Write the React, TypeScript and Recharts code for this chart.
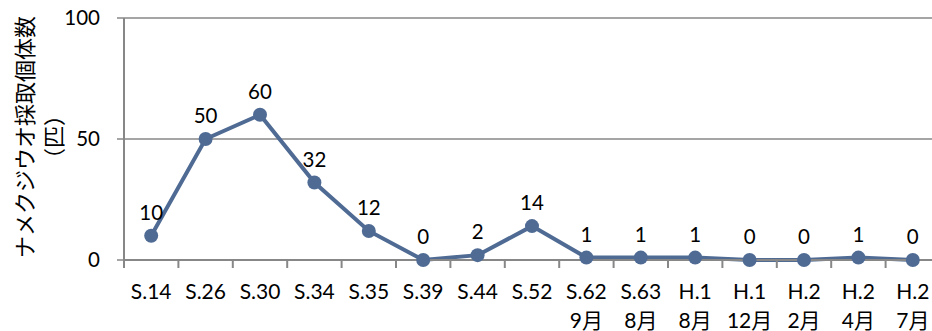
import { LineChart, Line, XAxis, YAxis, CartesianGrid, LabelList } from 'recharts';

// Survey periods (era year) and survey month, one entry per sampling
const periods = ['S.14', 'S.26', 'S.30', 'S.34', 'S.35', 'S.39', 'S.44', 'S.52', 'S.62', 'S.63', 'H.1', 'H.1', 'H.2', 'H.2', 'H.2'];
const months = ['', '', '', '', '', '', '', '', '9月', '8月', '8月', '12月', '2月', '4月', '7月'];
const counts = [10, 50, 60, 32, 12, 0, 2, 14, 1, 1, 1, 0, 0, 1, 0];
const yTicks = [0, 50, 100];

const data = periods.map((p, i) => ({ name: `${p}|${months[i]}`, count: counts[i] }));

const AXIS_GRAY = '#878787';
const LINE_BLUE = '#4F6B94';
const FONT = 'Lato, "Noto Sans CJK JP", sans-serif';

// Two-line category label plus a tick mark on the left band edge
function PeriodTick(props: any) {
  const { x, y, payload } = props;
  const [period, month] = String(payload.value).split('|');
  const half = payload.offset || 27.2;
  return (
    <g>
      <line x1={x - half} x2={x - half} y1={y - 8} y2={y} stroke={AXIS_GRAY} strokeWidth={2} />
      <text x={x} y={y + 31} textAnchor="middle" fontSize={21} fontFamily={FONT} fill="#000">
        {period}
      </text>
      {month && (
        <text x={x} y={y + 60} textAnchor="middle" fontSize={21} fontFamily={FONT} fill="#000">
          {month}
        </text>
      )}
    </g>
  );
}

// Vertical axis title, drawn as two rotated lines
function AxisTitle(props: any) {
  const vb = props.viewBox ?? { y: 18, height: 242 };
  const cy = vb.y + vb.height / 2 - 2;
  const jp = '"Noto Sans CJK JP", sans-serif';
  return (
    <g>
      <text
        x={23}
        y={cy}
        transform={`rotate(-90 23 ${cy})`}
        textAnchor="middle"
        dominantBaseline="central"
        fontSize={22}
        fontFamily={jp}
        fill="#000"
      >
        ナメクジウオ採取個体数
      </text>
      <text
        x={52}
        y={cy}
        transform={`rotate(-90 52 ${cy})`}
        textAnchor="middle"
        dominantBaseline="central"
        fontSize={22}
        fontFamily={jp}
        fill="#000"
      >
        （匹）
      </text>
    </g>
  );
}

export default function App() {
  return (
    <div style={{ position: 'fixed', left: 0, top: 0, width: 932, height: 331, overflow: 'hidden', background: '#fff' }}>
      <LineChart width={946} height={331} data={data} margin={{ top: 18, right: 6, bottom: 0, left: 0 }}>
        <CartesianGrid vertical={false} stroke={AXIS_GRAY} strokeWidth={1.5} />
        <XAxis
          dataKey="name"
          scale="band"
          height={71}
          interval={0}
          tickSize={8}
          tickMargin={0}
          tickLine={false}
          axisLine={{ stroke: AXIS_GRAY, strokeWidth: 2 }}
          tick={<PeriodTick />}
        />
        <YAxis
          width={124}
          domain={[0, 100]}
          ticks={yTicks}
          tickSize={7}
          tickMargin={17}
          axisLine={{ stroke: AXIS_GRAY, strokeWidth: 2 }}
          tickLine={{ stroke: AXIS_GRAY, strokeWidth: 1.5 }}
          tick={{ fill: '#000', fontSize: 20.5, fontFamily: FONT }}
          label={{ content: <AxisTitle /> }}
        />
        <Line
          type="linear"
          dataKey="count"
          stroke={LINE_BLUE}
          strokeWidth={4}
          dot={{ r: 7, fill: LINE_BLUE, stroke: 'none' }}
          activeDot={false}
          isAnimationActive={false}
        >
          <LabelList dataKey="count" position="top" offset={16} fill="#000" fontSize={20.5} fontFamily={FONT} />
        </Line>
      </LineChart>
    </div>
  );
}
